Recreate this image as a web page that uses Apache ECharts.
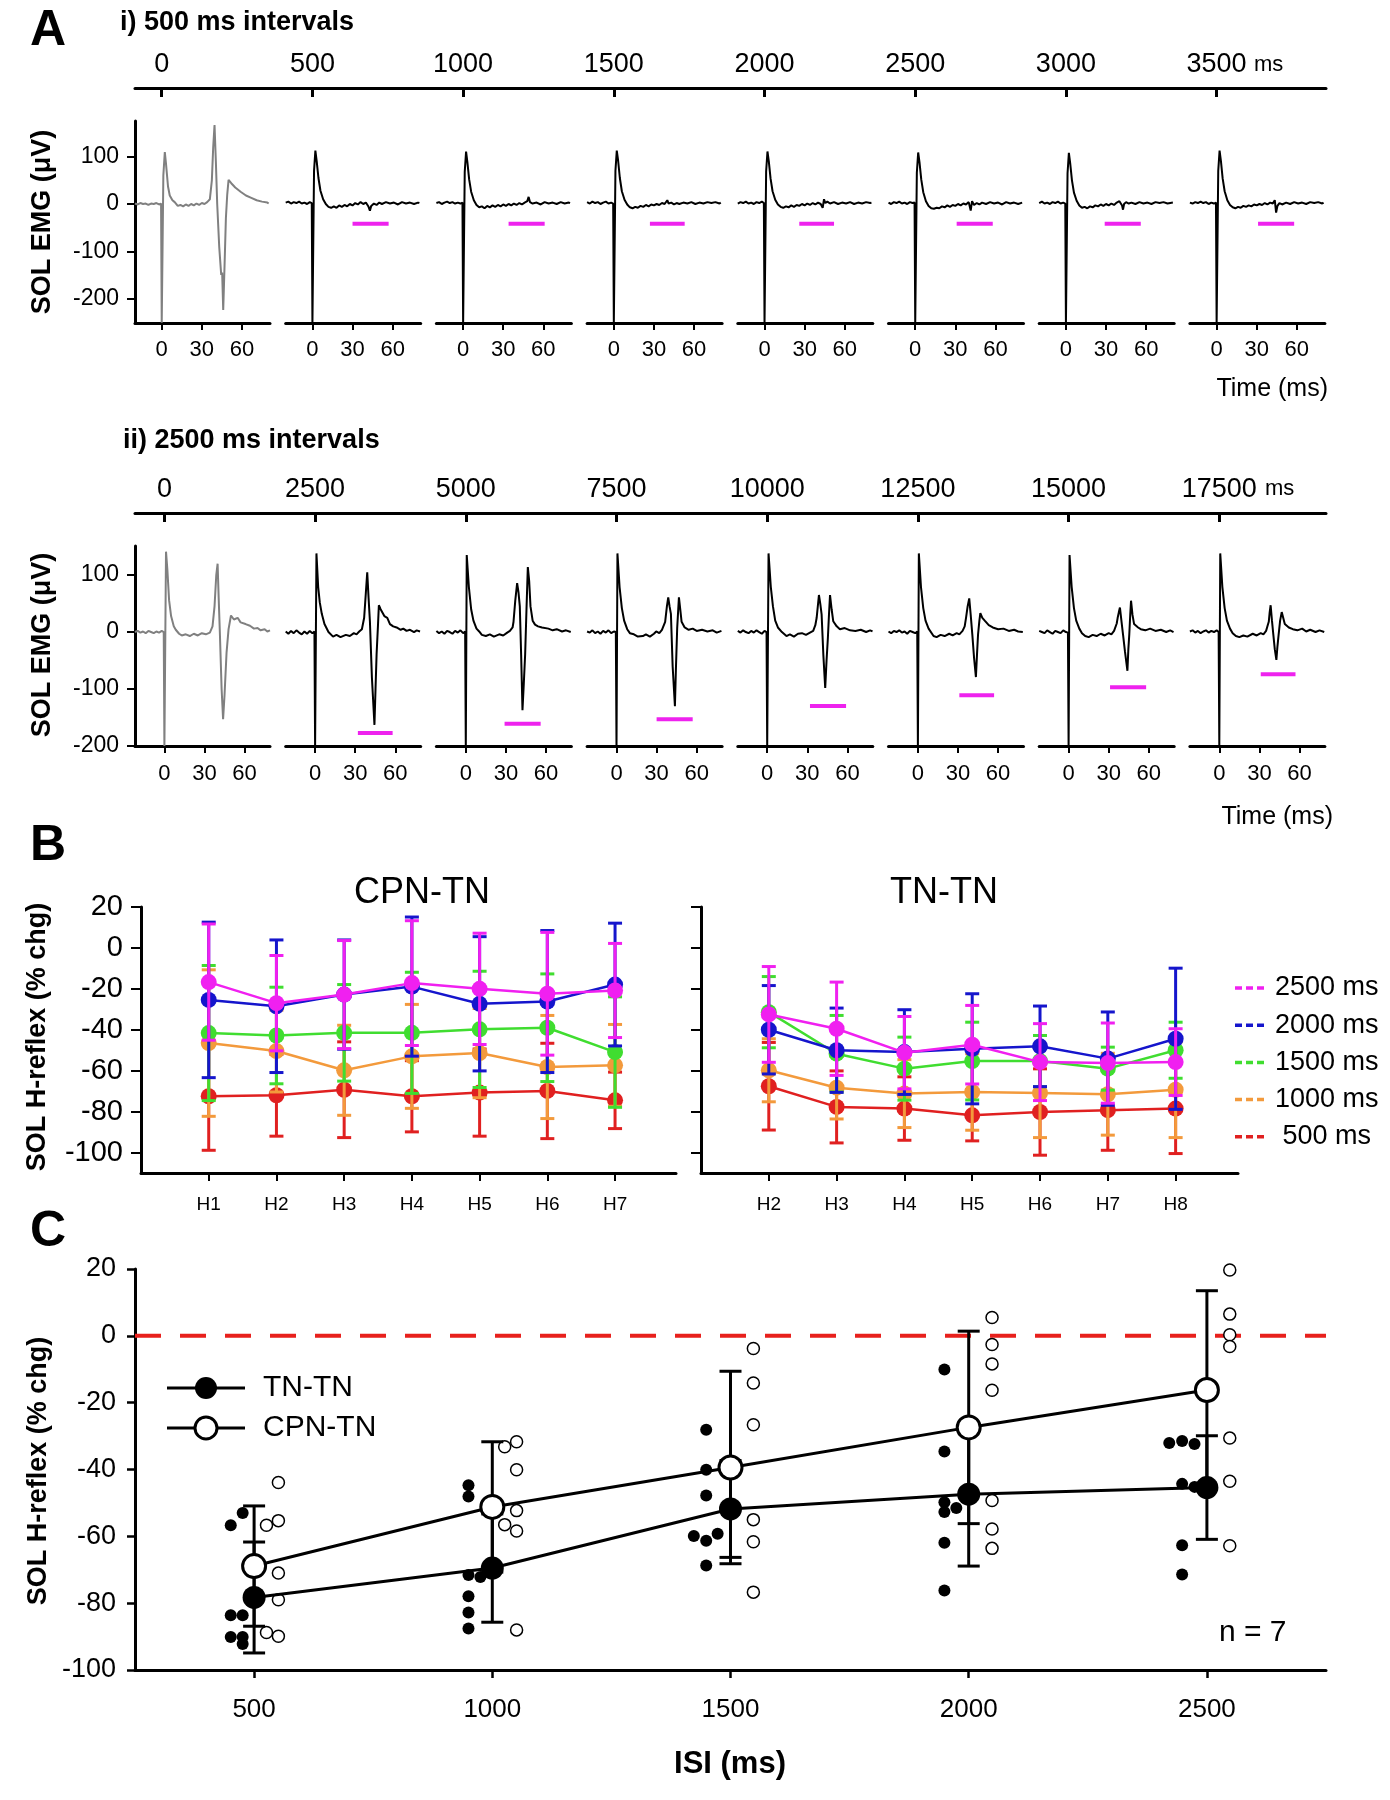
<!DOCTYPE html>
<html><head><meta charset="utf-8">
<script src="https://cdn.jsdelivr.net/npm/echarts@6/dist/echarts.min.js"></script>
<style>html,body{margin:0;padding:0;background:#fff}#c{width:1390px;height:1800px}</style>
</head><body><div id="c"></div>
<script>
// ---------------- DATA ----------------
// Panel A: top time-axis ticks
const aiTopTicks = [0, 500, 1000, 1500, 2000, 2500, 3000, 3500];
const aiiTopTicks = [0, 2500, 5000, 7500, 10000, 12500, 15000, 17500];
const emgTimeTicks = [0, 30, 60];
const emgVoltTicks = [-200, -100, 0, 100];

// A i) traces [ms, µV] (500 ms intervals)
const aiCtrl = [[-20,1],[-18,-1],[-16,2],[-14,0],[-12,1],[-10,-2],[-8,1],[-6,0],[-4,2],[-2,-1],[-0.5,1],[0,-251],[0.6,-251],[1.2,60],[2.3,110],[3.2,85],[4.7,37],[6,18],[8,8],[9.7,4],[12,-4],[14,-2],[16,-5],[18,-1],[20,-4],[22,0],[24,-3],[26,1],[28,-2],[30,2],[32,0],[34,4],[36,10],[37.5,50],[38.5,120],[39.5,167],[40.5,90],[41.5,0],[43,-90],[44.5,-150],[45.2,-145],[46,-224],[47,-130],[48,-30],[49,20],[50,51],[52,44],[55,35],[59,26],[63,18],[67,13],[71,8],[75,5],[79,3],[80,1]];
const ai500 = [[-20,3],[-18,5],[-16,1],[-14,4],[-12,2],[-10,5],[-8,1],[-6,3],[-4,0],[-2,4],[-0.5,2],[0,-251],[0.6,-251],[1.2,70],[2.2,113],[3.2,90],[4.5,55],[6,28],[8,10],[10,0],[12,-6],[14,-8],[16,-5],[18,-8],[20,-3],[22,-6],[24,-2],[26,-5],[28,0],[30,-3],[32,2],[34,-1],[36,4],[38,0],[40,3],[42,-6],[43,-14],[44,-4],[46,1],[48,-2],[50,3],[52,0],[55,4],[58,1],[61,3],[64,-1],[67,4],[70,1],[73,3],[76,0],[79,3],[80,2]];
const ai1000 = [[-20,2],[-18,4],[-16,0],[-14,3],[-12,5],[-10,2],[-8,4],[-6,1],[-4,3],[-2,1],[-0.5,3],[0,-251],[0.6,-251],[1.2,68],[2.2,111],[3.2,88],[4.5,52],[6,26],[8,8],[10,-2],[12,-7],[14,-5],[16,-9],[18,-4],[20,-7],[22,-3],[24,-6],[26,-2],[28,-5],[30,-1],[32,-4],[34,0],[36,-3],[38,1],[40,-2],[42,2],[44,-1],[46,3],[48,6],[49,15],[50,4],[52,1],[55,3],[58,-1],[61,4],[64,1],[67,3],[70,0],[73,4],[76,1],[79,3],[80,2]];
const ai1500 = [[-20,4],[-18,1],[-16,5],[-14,2],[-12,4],[-10,0],[-8,3],[-6,5],[-4,1],[-2,3],[-0.5,1],[0,-251],[0.6,-251],[1.2,70],[2.2,113],[3.2,92],[4.5,55],[6,27],[8,9],[10,-1],[12,-7],[14,-9],[16,-6],[18,-8],[20,-4],[22,-6],[24,-2],[26,-5],[28,-1],[30,-3],[32,0],[34,-2],[36,2],[38,0],[40,8],[41,1],[43,3],[45,-1],[47,2],[49,0],[52,3],[55,1],[58,4],[61,0],[64,3],[67,1],[70,4],[73,2],[76,4],[79,1],[80,3]];
const ai2000 = [[-20,1],[-18,4],[-16,2],[-14,5],[-12,1],[-10,3],[-8,0],[-6,4],[-4,2],[-2,5],[-0.5,2],[0,-251],[0.6,-251],[1.2,69],[2.2,111],[3.2,90],[4.5,54],[6,27],[8,9],[10,-1],[12,-6],[14,-8],[16,-5],[18,-7],[20,-3],[22,-6],[24,-2],[26,-4],[28,0],[30,-3],[32,1],[34,-2],[36,2],[38,-1],[40,3],[42,0],[43.5,-8],[44.5,10],[45.5,2],[47,5],[49,1],[52,4],[55,0],[58,3],[61,1],[64,4],[67,0],[70,3],[73,1],[76,4],[79,2],[80,3]];
const ai2500 = [[-20,3],[-18,0],[-16,4],[-14,2],[-12,5],[-10,1],[-8,3],[-6,0],[-4,4],[-2,2],[-0.5,3],[0,-251],[0.6,-251],[1.2,66],[2.2,109],[3.2,88],[4.5,52],[6,25],[8,6],[10,-4],[12,-9],[14,-10],[16,-8],[18,-9],[20,-5],[22,-7],[24,-3],[26,-6],[28,-2],[30,-4],[32,0],[34,-3],[36,1],[38,-1],[40,4],[41.5,-14],[42.5,6],[44,-2],[46,2],[48,-1],[50,3],[53,0],[56,4],[59,1],[62,3],[65,-1],[68,4],[71,1],[74,3],[77,0],[80,3]];
const ai3000 = [[-20,2],[-18,5],[-16,1],[-14,3],[-12,0],[-10,4],[-8,2],[-6,5],[-4,1],[-2,3],[-0.5,1],[0,-251],[0.6,-251],[1.2,65],[2.2,108],[3.2,86],[4.5,50],[6,24],[8,7],[10,-3],[12,-8],[14,-6],[16,-9],[18,-5],[20,-7],[22,-3],[24,-5],[26,-1],[28,-4],[30,0],[32,-3],[34,1],[36,-2],[38,3],[40,6],[42,-3],[42.7,-12],[43.5,0],[45,4],[47,1],[49,3],[52,0],[55,4],[58,1],[61,3],[64,0],[67,4],[70,2],[73,4],[76,1],[80,3]];
const ai3500 = [[-20,3],[-18,1],[-16,4],[-14,2],[-12,5],[-10,2],[-8,4],[-6,0],[-4,3],[-2,1],[-0.5,3],[0,-251],[0.6,-251],[1.2,70],[2.2,113],[3.2,91],[4.5,54],[6,27],[8,8],[10,-2],[12,-7],[14,-9],[16,-6],[18,-8],[20,-4],[22,-6],[24,-3],[26,-5],[28,-1],[30,-3],[32,0],[34,-2],[36,2],[38,-1],[40,3],[42,1],[43.5,8],[44.5,-18],[45.5,-4],[47,2],[49,-1],[52,3],[55,0],[58,4],[61,1],[64,3],[67,0],[70,4],[73,2],[76,4],[79,1],[80,3]];
// magenta H-reflex window bars [start ms, end ms, µV]
const aiBars = [null,[30,57,-42],[34,61,-42],[27,53,-42],[26,52,-42],[31,58,-42],[29,56,-42],[31,58,-42]];

// A ii) traces (2500 ms intervals)
const aiiCtrl = [[-22,0],[-20,2],[-18,-1],[-16,1],[-14,-2],[-12,2],[-10,0],[-8,-2],[-6,1],[-4,-1],[-2,2],[-0.5,0],[0,-200],[0.5,-200],[1.2,141],[2.2,110],[3.5,56],[5,28],[7,10],[8.5,4],[11,-3],[13,-6],[16,-4],[19,-7],[22,-3],[25,-6],[28,-2],[31,-4],[34,-1],[36,10],[37.5,45],[38.8,100],[39.8,120],[40.6,60],[41.5,-2],[42.8,-100],[43.9,-153],[45,-110],[46.5,-36],[48,5],[49.8,29],[52,22],[54.8,25],[57,17],[60.7,14],[64,11],[67,6],[69.7,7],[72,3],[75,5],[77,1],[79,3]];
const aii2500 = [[-22,1],[-20,-3],[-18,2],[-16,-2],[-14,3],[-12,-1],[-10,-4],[-8,1],[-6,-3],[-4,2],[-2,-2],[-0.5,1],[0,-200],[0.5,-200],[1,138],[2.3,79],[3.5,52],[5,32],[7,14],[10,0],[13.4,-8],[16,-5],[19,-9],[23,-5],[26,-7],[29,-2],[31,-4],[33,1],[35,5],[36.7,25],[38,70],[39,105],[40,60],[41,19],[42.5,-80],[44.4,-163],[45.2,-100],[46,-39],[47,10],[47.7,47],[49,40],[51.8,28],[54,25],[56,14],[58.4,10],[61,8],[64,4],[66,6],[68.4,2],[71,4],[74,0],[76,3],[78.5,1]];
const aii5000 = [[-22,2],[-20,-2],[-18,1],[-16,-3],[-14,2],[-12,0],[-10,-3],[-8,2],[-6,-1],[-4,3],[-2,-2],[-0.5,1],[0,-200],[0.5,-200],[0.7,135],[2.3,79],[4,40],[5.7,20],[8,6],[10,1],[12,-5],[15,-7],[18,-4],[21,-8],[25,-4],[28,-6],[31,-1],[33,2],[35,8],[35.7,18],[37,55],[38.4,86],[39.4,70],[40.4,45],[41.4,-40],[42.4,-137],[43.4,-90],[44.4,-39],[45.4,40],[46.4,114],[47.4,90],[48.4,45],[50,20],[51.8,13],[54,10],[57,8],[61.8,6],[65,3],[68,5],[72,1],[75,3],[78.5,0]];
const aii7500 = [[-22,1],[-20,-1],[-18,3],[-16,-2],[-14,1],[-12,-3],[-10,2],[-8,-1],[-6,3],[-4,-2],[-2,1],[-0.5,0],[0,-200],[0.5,-200],[0.7,138],[2.3,79],[4,42],[5.7,20],[8,5],[10,-2],[13,-4],[16,-8],[19.7,-7],[22,-4],[25,-8],[28,-3],[29.7,1],[32,-2],[34,4],[36.4,18],[37.7,45],[38.7,61],[39.7,45],[40.7,32],[42,-60],[43.7,-130],[44.5,-60],[45.4,7],[46.7,61],[47.7,40],[48.7,18],[51,8],[54,4],[57,6],[60,2],[64,4],[68,1],[72,3],[75,-1],[78.5,2]];
const aii10000 = [[-22,2],[-20,-1],[-18,3],[-16,0],[-14,-2],[-12,2],[-10,-1],[-8,3],[-6,0],[-4,-3],[-2,2],[-0.5,0],[0,-200],[0.5,-200],[1,138],[2.7,79],[4.3,45],[6,20],[8,8],[11,0],[14.4,-7],[17,-4],[20,-8],[23,-3],[26,-2],[29,-5],[32,-1],[34.4,2],[36,12],[37,25],[38.7,65],[39.7,50],[40.7,31],[42,-40],[43.4,-98],[44.4,-50],[45.4,-10],[46.2,30],[47,65],[48.2,40],[49.4,19],[52,10],[54.4,5],[58,7],[62,3],[66,2],[70,4],[74,0],[77,3],[78.8,1]];
const aii12500 = [[-22,1],[-20,-2],[-18,2],[-16,0],[-14,3],[-12,-1],[-10,1],[-8,-3],[-6,2],[-4,0],[-2,-2],[-0.5,1],[0,-200],[0.5,-200],[0.7,138],[2.3,79],[4,42],[5.7,20],[8,6],[11.7,-7],[14,-9],[17,-5],[20,-7],[23.4,-3],[26,-6],[29,-2],[31,-4],[33.4,2],[35,10],[36,25],[37.2,45],[38.4,59],[39.5,30],[40.7,-4],[42,-45],[43.4,-79],[44.2,-40],[45,-4],[46,20],[46.7,33],[48.2,25],[50,20],[53,12],[56,8],[60,5],[64,6],[68,2],[72,4],[75,1],[78.5,0]];
const aii15000 = [[-22,2],[-20,0],[-18,-2],[-16,3],[-14,0],[-12,-3],[-10,2],[-8,0],[-6,-2],[-4,3],[-2,0],[-0.5,-1],[0,-200],[0.5,-200],[0.7,135],[2.3,79],[4,42],[5.7,20],[8,6],[10,-2],[12.4,-7],[15,-9],[18,-5],[21,-7],[24,-3],[27,-6],[30,-2],[32,-4],[34,2],[36,15],[36.7,25],[37.6,35],[38.4,43],[39.5,20],[40.7,-4],[42.2,-35],[44,-68],[44.7,-30],[45.4,-4],[46.1,30],[46.7,55],[47.8,30],[49,14],[52,8],[54,5],[57.4,3],[61,6],[65,2],[69,4],[73,0],[76,3],[78.5,0]];
const aii17500 = [[-22,1],[-20,3],[-18,-1],[-16,2],[-14,-2],[-12,1],[-10,3],[-8,-1],[-6,2],[-4,0],[-2,3],[-0.5,0],[0,-200],[0.5,-200],[0.7,138],[2.3,79],[4,42],[5.7,20],[8,6],[10,-2],[12.4,-7],[15,-9],[18,-6],[21,-8],[25,-3],[28,-6],[31,-2],[33,-4],[35,2],[36,10],[37,18],[37.7,35],[38.4,47],[39.4,20],[40.4,-4],[41.5,-30],[42.7,-49],[43.5,-25],[44.4,-4],[45.5,20],[46.7,35],[47.8,25],[49,14],[52,8],[55,5],[58.4,3],[62,6],[65,1],[68,4],[72,0],[75,3],[78.5,0]];
const aiiBars = [null,[32,58,-177],[29,56,-161],[30,57,-153],[32,59,-130],[31,57,-111],[31,58,-97],[31,57,-74]];

// Panel B: H-reflex number, % change (mean, SD) per ISI
const isiNames = ['2500 ms', '2000 ms', '1500 ms', '1000 ms', ' 500 ms'];
const bLeftH = [1, 2, 3, 4, 5, 6, 7];
const bRightH = [2, 3, 4, 5, 6, 7, 8];
const bYTicks = [20, 0, -20, -40, -60, -80, -100];
// CPN-TN
const cpnB2500 = [-16.7, -27, -22.8, -17.2, -20, -22.4, -20.8];
const cpnB2500sd = [28.4, 23.3, 26.4, 30.5, 27.2, 30, 23];
const cpnB2000 = [-25.4, -28.5, -22.8, -18.9, -27.3, -26.2, -17.9];
const cpnB2000sd = [38, 32.4, 26.7, 34, 32.8, 34.7, 30];
const cpnB1500 = [-41.6, -42.8, -41.5, -41.5, -39.8, -39, -50.9];
const cpnB1500sd = [33, 23.6, 23.6, 29.6, 28.4, 26.3, 27];
const cpnB1000 = [-46.5, -50.4, -59.8, -53, -51.4, -58.2, -57.4];
const cpnB1000sd = [35.8, 20, 22, 25.4, 21.8, 25.2, 20];
const cpnB500 = [-72.5, -72, -69.3, -72.5, -70.7, -69.9, -74.5];
const cpnB500sd = [26.4, 20, 23.4, 17.4, 21.3, 23.3, 13.8];
// TN-TN
const tnB2500 = [-32.5, -39.5, -51.2, -47.3, -55.8, -56.3, -55.8];
const tnB2500sd = [23.4, 22.8, 17.7, 19.2, 18.8, 19.6, 16.3];
const tnB2000 = [-40, -50, -50.9, -49.3, -48.1, -54.1, -44.4];
const tnB2000sd = [21.6, 20.6, 20.7, 26.9, 19.7, 22.8, 34.5];
const tnB1500 = [-31.4, -51.7, -59, -55.3, -55.3, -59, -50];
const tnB1500sd = [17.4, 18.7, 15.4, 19, 12.5, 10.5, 13.7];
const tnB1000 = [-59.8, -68.3, -71.2, -70.4, -70.9, -71.5, -69.3];
const tnB1000sd = [15.4, 15.3, 16.6, 18.7, 21.8, 20, 23.4];
const tnB500 = [-67.6, -77.7, -78.5, -81.8, -80.2, -79.3, -78.5];
const tnB500sd = [21.4, 17.6, 15.5, 12.5, 21.1, 19.6, 22];

// Panel C: ISI (ms) vs % change
const cGroups = ['TN-TN', 'CPN-TN'];
const isiTicks = [500, 1000, 1500, 2000, 2500];
const tnMean = [-78.3, -69.5, -51.8, -47.4, -45.4];
const tnSd = [16.6, 16.2, 14.5, 21.5, 15.5];
const cpnMean = [-68.9, -51.2, -39.4, -27.4, -16.2];
const cpnSd = [18, 19.5, 28.8, 28.8, 29.7];
const tnSubjects = [[451,-56.7],[476,-53.0],[451,-83.6],[476,-83.6],[451,-90.1],[476,-90.1],[476,-92.2],
  [950,-44.7],[950,-48.1],[950,-71.6],[975,-72.2],[950,-77.9],[950,-82.8],[950,-87.6],
  [1449,-28.1],[1449,-40.1],[1449,-47.8],[1423,-59.9],[1449,-61.3],[1473,-59.2],[1449,-68.7],
  [1949,-10.1],[1949,-34.6],[1949,-49.8],[1974,-51.5],[1949,-52.7],[1949,-61.9],[1949,-76.2],
  [2421,-32.1],[2448,-31.5],[2474,-32.4],[2448,-44.3],[2474,-45.2],[2448,-62.7],[2448,-71.4]];
const cpnSubjects = [[551,-43.9],[526,-56.7],[551,-55.3],[551,-71.0],[551,-79.0],[526,-88.8],[551,-89.9],
  [1026,-33.2],[1051,-31.7],[1051,-40.1],[1051,-52.3],[1026,-56.5],[1051,-58.4],[1051,-88.0],
  [1548,-3.8],[1548,-14.1],[1548,-26.6],[1548,-55.0],[1548,-61.6],[1548,-76.7],
  [2049,5.5],[2049,-2.6],[2049,-8.4],[2049,-16.3],[2049,-49.3],[2049,-57.8],[2049,-63.6],
  [2548,19.7],[2548,6.5],[2548,0.3],[2548,-3.2],[2548,-30.6],[2548,-43.5],[2548,-62.8]];

// ---------------- BUILD ----------------
const FONT = "'Liberation Sans', Arial, Helvetica, sans-serif";
const ISI_COLORS = ['#f020f0', '#1515cc', '#40dd30', '#f39a3c', '#e02020'];
const MAG = '#ee22ee';
const PANEL_X0 = 135, PANEL_STEP = 150.7, PANEL_W = 135, TOTAL_W = 1191;
const grid = [], xAxis = [], yAxis = [], series = [], graphic = [];
const plain = v => String(v);

function addPanel(g, xa, ya) {
  const i = grid.length;
  grid.push(g);
  xAxis.push(Object.assign({type: 'value', gridIndex: i, splitLine: {show: false}}, xa));
  yAxis.push(Object.assign({type: 'value', gridIndex: i, splitLine: {show: false}}, ya));
  return i;
}
const axLine = w => ({show: true, onZero: false, lineStyle: {color: '#000', width: w}});
const lbl = (size, extra) => Object.assign({color: '#000', fontSize: size, fontFamily: FONT, formatter: plain}, extra);

function topTimeAxis(top, zeroX, msPerStep, ticks) {
  const pxPerMs = PANEL_STEP / msPerStep;
  const min = -(zeroX - PANEL_X0) / pxPerMs;
  const max = min + TOTAL_W / pxPerMs;
  addPanel({left: PANEL_X0, top: top, width: TOTAL_W, height: 1},
    {position: 'top', min: min, max: max, axisLine: axLine(3),
     axisTick: {show: true, inside: true, length: 9, customValues: ticks, lineStyle: {color: '#000', width: 3}},
     axisLabel: lbl(27, {customValues: ticks, margin: 10})},
    {show: false, min: 0, max: 1});
}

function emgPanel(k, top, height, tRange, vRange, trace, color, bar, labelMargin) {
  const i = addPanel({left: PANEL_X0 + PANEL_STEP * k, top: top, width: PANEL_W, height: height},
    {min: tRange[0], max: tRange[1], axisLine: axLine(3),
     axisTick: {show: true, customValues: emgTimeTicks, length: 7, lineStyle: {color: '#000', width: 2}},
     axisLabel: lbl(22, {customValues: emgTimeTicks, margin: labelMargin})},
    {min: vRange[0], max: vRange[1], show: k === 0, axisLine: axLine(3),
     axisTick: {show: true, customValues: emgVoltTicks, length: 8, lineStyle: {color: '#000', width: 2}},
     axisLabel: lbl(23, {customValues: emgVoltTicks, margin: 16})});
  series.push({type: 'line', xAxisIndex: i, yAxisIndex: i, data: trace, symbol: 'none', silent: true,
    lineStyle: {color: color, width: 2}, z: 3});
  if (bar) series.push({type: 'line', xAxisIndex: i, yAxisIndex: i, symbol: 'none', silent: true,
    data: [[bar[0], bar[2]], [bar[1], bar[2]]], lineStyle: {color: MAG, width: 4}, z: 4});
}

function errorSeries(idx, data, color, capHalf, width, z) {
  return {type: 'custom', xAxisIndex: idx, yAxisIndex: idx, data: data, z: z, silent: true,
    encode: {x: 0, y: [1, 2]},
    renderItem: function (params, api) {
      const x = api.value(0), lo = api.value(1), hi = api.value(2);
      const a = api.coord([x, lo]), b = api.coord([x, hi]);
      const st = {stroke: color, lineWidth: width};
      return {type: 'group', children: [
        {type: 'line', shape: {x1: a[0], y1: a[1], x2: b[0], y2: b[1]}, style: st},
        {type: 'line', shape: {x1: a[0] - capHalf, y1: a[1], x2: a[0] + capHalf, y2: a[1]}, style: st},
        {type: 'line', shape: {x1: b[0] - capHalf, y1: b[1], x2: b[0] + capHalf, y2: b[1]}, style: st}]};
    }};
}

// ---- Panel A i
topTimeAxis(88, 161.7, 500, aiTopTicks);
const aiTraces = [aiCtrl, ai500, ai1000, ai1500, ai2000, ai2500, ai3000, ai3500];
aiTraces.forEach((tr, k) => emgPanel(k, 121, 202, [-20, 81], [-251.6, 175.5], tr, k === 0 ? '#808080' : '#000', aiBars[k], 16));
// ---- Panel A ii
topTimeAxis(513, 164.4, 2500, aiiTopTicks);
const aiiTraces = [aiiCtrl, aii2500, aii5000, aii7500, aii10000, aii12500, aii15000, aii17500];
aiiTraces.forEach((tr, k) => emgPanel(k, 546, 200, [-22, 79], [-200, 151], tr, k === 0 ? '#808080' : '#000', aiiBars[k], 17));

// ---- Panel B
function bPanel(left, width, xRange, hs, groups, showYLabels) {
  const i = addPanel({left: left, top: 907, width: width, height: 266},
    {min: xRange[0], max: xRange[1], axisLine: axLine(3),
     axisTick: {show: true, customValues: hs, length: 8, lineStyle: {color: '#000', width: 2}},
     axisLabel: lbl(19, {customValues: hs, margin: 22, formatter: v => 'H' + v})},
    {min: -110, max: 20, axisLine: axLine(3),
     axisTick: {show: true, customValues: bYTicks, length: 10, lineStyle: {color: '#000', width: 2}},
     axisLabel: lbl(29, {show: showYLabels, customValues: bYTicks, margin: 18})});
  for (let g = groups.length - 1; g >= 0; g--) {
    const m = groups[g][0], sd = groups[g][1], col = ISI_COLORS[g];
    series.push(errorSeries(i, hs.map((h, j) => [h, m[j] - sd[j], m[j] + sd[j]]), col, 7, 3, 10 + (4 - g) * 2));
    series.push({type: 'line', xAxisIndex: i, yAxisIndex: i, name: isiNames[g], data: hs.map((h, j) => [h, m[j]]),
      symbol: 'circle', symbolSize: 16, itemStyle: {color: col}, lineStyle: {color: col, width: 2.5},
      silent: true, z: 11 + (4 - g) * 2});
  }
}
bPanel(141, 535, [0, 7.9], bLeftH,
  [[cpnB2500, cpnB2500sd], [cpnB2000, cpnB2000sd], [cpnB1500, cpnB1500sd], [cpnB1000, cpnB1000sd], [cpnB500, cpnB500sd]], true);
bPanel(701, 537, [1, 8.92], bRightH,
  [[tnB2500, tnB2500sd], [tnB2000, tnB2000sd], [tnB1500, tnB1500sd], [tnB1000, tnB1000sd], [tnB500, tnB500sd]], false);

// ---- Panel C
const ci = addPanel({left: 135, top: 1269, width: 1191, height: 401},
  {min: 250, max: 2750, axisLine: axLine(3),
   axisTick: {show: true, customValues: isiTicks, length: 8, lineStyle: {color: '#000', width: 2.5}},
   axisLabel: lbl(26, {customValues: isiTicks, margin: 27})},
  {min: -100, max: 20, interval: 20, axisLine: axLine(3),
   axisTick: {show: true, length: 8, lineStyle: {color: '#000', width: 2.5}},
   axisLabel: lbl(27, {margin: 19})});
series.push({type: 'line', xAxisIndex: ci, yAxisIndex: ci, data: [[250, 0], [2750, 0]], symbol: 'none', silent: true,
  lineStyle: {color: '#e8201c', width: 4, type: [26, 19]}, z: 1});
series.push({type: 'scatter', xAxisIndex: ci, yAxisIndex: ci, data: tnSubjects, symbolSize: 12, silent: true,
  itemStyle: {color: '#000', opacity: 1}, z: 2});
series.push({type: 'scatter', xAxisIndex: ci, yAxisIndex: ci, data: cpnSubjects, symbolSize: 12, silent: true,
  itemStyle: {color: '#fff', borderColor: '#000', borderWidth: 1.5, opacity: 1}, z: 2});
series.push(errorSeries(ci, isiTicks.map((x, j) => [x, tnMean[j] - tnSd[j], tnMean[j] + tnSd[j]]), '#000', 11, 3, 3));
series.push(errorSeries(ci, isiTicks.map((x, j) => [x, cpnMean[j] - cpnSd[j], cpnMean[j] + cpnSd[j]]), '#000', 11, 3, 3));
series.push({type: 'line', xAxisIndex: ci, yAxisIndex: ci, name: cGroups[0], data: isiTicks.map((x, j) => [x, tnMean[j]]),
  symbol: 'circle', symbolSize: 23, itemStyle: {color: '#000'}, lineStyle: {color: '#000', width: 3}, silent: true, z: 5});
series.push({type: 'line', xAxisIndex: ci, yAxisIndex: ci, name: cGroups[1], data: isiTicks.map((x, j) => [x, cpnMean[j]]),
  symbol: 'circle', symbolSize: 23, itemStyle: {color: '#fff', borderColor: '#000', borderWidth: 3},
  lineStyle: {color: '#000', width: 3}, silent: true, z: 6});

// ---- Text / annotations
function txt(text, x, y, size, opts) {
  opts = opts || {};
  const align = opts.align || 'left';
  graphic.push({type: 'text', x: x, y: y, rotation: opts.rot || 0, silent: true, z: 100,
    style: {text: text, fill: '#000', fontSize: size, fontFamily: FONT, fontWeight: opts.bold ? 'bold' : 'normal',
      align: align, textAlign: align, verticalAlign: opts.va || 'middle', textVerticalAlign: opts.va || 'middle'}});
}
txt('A', 48, 31, 50, {bold: true, align: 'center'});
txt('B', 48, 846, 50, {bold: true, align: 'center'});
txt('C', 48, 1232, 50, {bold: true, align: 'center'});
txt('i) 500 ms intervals', 120, 23, 27, {bold: true});
txt('ii) 2500 ms intervals', 123, 441, 27, {bold: true});
txt('ms', 1254, 76, 22, {va: 'bottom'});
txt('ms', 1265, 500, 22, {va: 'bottom'});
txt('Time (ms)', 1328, 389, 25, {align: 'right'});
txt('Time (ms)', 1333, 817, 25, {align: 'right'});
txt('SOL EMG (\u03bcV)', 43, 222, 27, {bold: true, align: 'center', rot: Math.PI / 2});
txt('SOL EMG (\u03bcV)', 43, 645, 27, {bold: true, align: 'center', rot: Math.PI / 2});
txt('SOL H-reflex (% chg)', 38, 1037, 27, {bold: true, align: 'center', rot: Math.PI / 2});
txt('SOL H-reflex (% chg)', 39, 1471, 27, {bold: true, align: 'center', rot: Math.PI / 2});
txt(cGroups[1], 422, 893, 36, {align: 'center'});
txt(cGroups[0], 944, 893, 36, {align: 'center'});
txt('ISI (ms)', 730, 1764, 31, {bold: true, align: 'center'});
txt('n = 7', 1219, 1633, 30);
// B legend
isiNames.forEach((n, i) => {
  const y = 988 + i * 37.2;
  graphic.push({type: 'line', silent: true, shape: {x1: 1235, y1: y, x2: 1265, y2: y},
    style: {stroke: ISI_COLORS[i], lineWidth: 3.5, lineDash: [7, 4]}});
  txt(n, 1275, y, 27);
});
// C legend
cGroups.forEach((n, i) => {
  const y = 1388 + i * 40;
  graphic.push({type: 'line', silent: true, shape: {x1: 167, y1: y, x2: 245, y2: y}, style: {stroke: '#000', lineWidth: 3}});
  graphic.push({type: 'circle', silent: true, shape: {cx: 206, cy: y, r: 11},
    style: i === 0 ? {fill: '#000'} : {fill: '#fff', stroke: '#000', lineWidth: 3}});
  txt(n, 263, y, 30);
});

const chart = echarts.init(document.getElementById('c'), null, {renderer: 'canvas'});
chart.setOption({animation: false, backgroundColor: '#fff', grid, xAxis, yAxis, series, graphic});
</script></body></html>
